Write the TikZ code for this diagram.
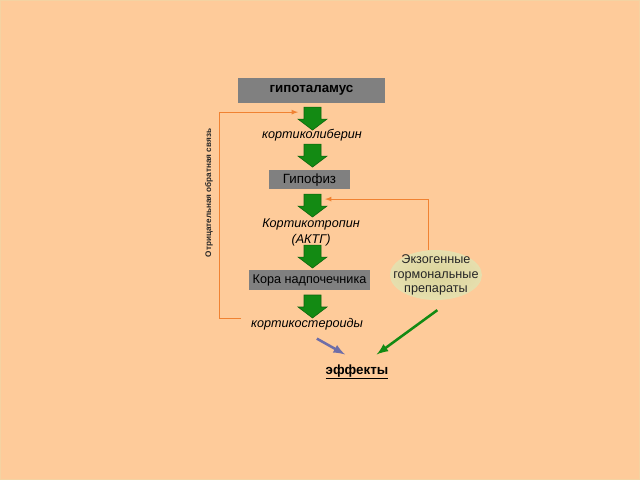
\documentclass[tikz,border=0pt]{standalone}
\usepackage{fontspec}
\setmainfont{Liberation Sans}
\usetikzlibrary{shapes,arrows}

\definecolor{bgpeach}{HTML}{FECB9A}
\definecolor{boxgray}{HTML}{808080}
\definecolor{grfill}{HTML}{138A13}
\definecolor{grline}{HTML}{0C640C}
\definecolor{fborange}{HTML}{F08232}
\definecolor{slateblue}{HTML}{6E6EA8}
\definecolor{exofill}{HTML}{DAD39A}
\definecolor{exoedge}{HTML}{E6DFAE}

\tikzset{
  graybox/.style={fill=boxgray, inner sep=0pt, font=\fontsize{9}{11}\selectfont},
  hormone/.style={font=\fontsize{9}{11.5}\selectfont\itshape, align=center, inner sep=1pt},
  grarr/.style={fill=grfill, draw=grline, line width=0.4pt},
  fb/.style={draw=fborange, line width=0.6pt},
}

\begin{document}
\begin{tikzpicture}[x=0.025cm, y=-0.025cm]
\fill [bgpeach] (0,0) rectangle (640,480);
\draw [exoedge!40!bgpeach, line width=1pt] (0.5,0.5) rectangle (639.5,479.5);
\useasboundingbox (0,0) rectangle (640,480);

% main chain
\node[graybox, minimum width=3.675cm, minimum height=0.625cm, font=\fontsize{9.5}{11}\selectfont\bfseries] (hypoth) at (311.5,90.5) {гипоталамус};
\node[hormone] (crh) at (312,135) {кортиколиберин};
\node[graybox, minimum width=2.025cm, minimum height=0.475cm, font=\fontsize{9.5}{11}\selectfont] (hypoph) at (309.5,179.5) {Гипофиз};
\node[hormone] (acth) at (311,232) {Кортикотропин\\(АКТГ)};
\node[graybox, minimum width=3.025cm, minimum height=0.5cm] (cortex) at (309.5,280) {Кора надпочечника};
\node[hormone] (kstero) at (307,324) {кортикостероиды};
\node[font=\fontsize{9.5}{11}\selectfont\bfseries] (effects) at (357,372) {\underline{эффекты}};

% block arrows
\foreach \ya in {107,144,194,245,295} {
  \draw[grarr] (304,\ya) -- (321,\ya) -- (321,\ya+12) -- (327,\ya+12) -- (312.5,\ya+23) -- (298,\ya+12) -- (304,\ya+12) -- cycle;
}

% exogenous
\node[ellipse, inner color=exofill, outer color=exoedge, minimum width=2.3cm, minimum height=1.25cm,
  inner xsep=-10pt, inner ysep=-8pt,
  font=\fontsize{9}{10.3}\selectfont, align=center, text=black!85] (exo) at (436,275) {Экзогенные\\гормональные\\препараты};

% negative feedback
\coordinate (fbbot) at (219,318);
\coordinate (fbtop) at (219,112);
\coordinate (fbtip) at (298,112);
\draw[fb] (241,318) -- (fbbot) -- (fbtop);
\draw[fb, -latex] (fbtop) -- (fbtip);
\node[rotate=90, font=\fontsize{5.8}{6}\selectfont\bfseries, text=black!85] (fblabel) at (209,193) {Отрицательная обратная связь};

\coordinate (hyptip) at (325,199);
\draw[fb, -latex] ([xshift=-5pt]exo.north) |- (hyptip);

% to effects
\draw[slateblue, line width=1.8pt, -latex] ([xshift=7pt,yshift=-5pt]kstero.south) -- ([xshift=-8.5pt,yshift=3.5pt]effects.north);
\draw[grfill, line width=1.8pt, -latex] ([xshift=1pt,yshift=-7pt]exo.south) -- ([xshift=14pt,yshift=3.5pt]effects.north);
\end{tikzpicture}
\end{document}
